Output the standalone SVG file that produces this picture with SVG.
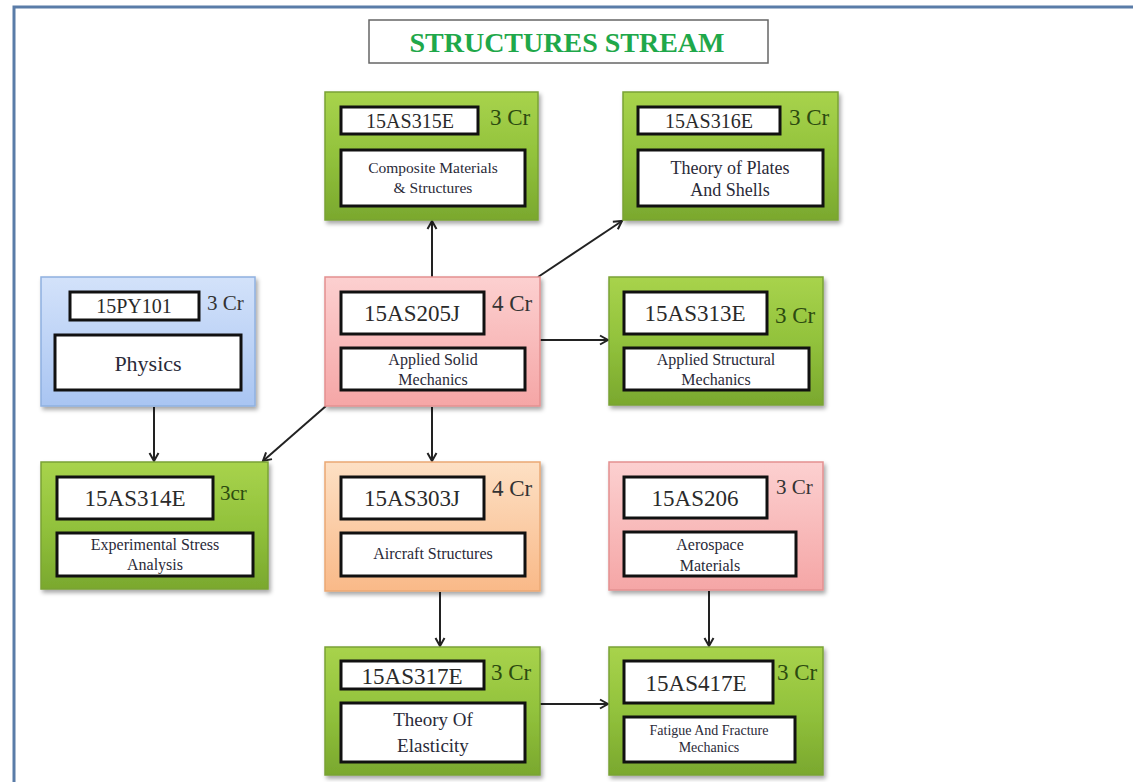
<svg xmlns="http://www.w3.org/2000/svg" width="1133" height="782" viewBox="0 0 1133 782">
<defs>
<linearGradient id="gGreen" x1="0" y1="0" x2="0" y2="1">
<stop offset="0" stop-color="#a8d34c"/><stop offset="0.5" stop-color="#92c23c"/><stop offset="1" stop-color="#7aa82e"/>
</linearGradient>
<linearGradient id="gPink" x1="0" y1="0" x2="0" y2="1">
<stop offset="0" stop-color="#fcd0d0"/><stop offset="1" stop-color="#f5a6a6"/>
</linearGradient>
<linearGradient id="gBlue" x1="0" y1="0" x2="0" y2="1">
<stop offset="0" stop-color="#d3e2fa"/><stop offset="1" stop-color="#a9c5f2"/>
</linearGradient>
<linearGradient id="gOrange" x1="0" y1="0" x2="0" y2="1">
<stop offset="0" stop-color="#fde0c4"/><stop offset="1" stop-color="#f9b988"/>
</linearGradient>
<filter id="sh" x="-10%" y="-10%" width="125%" height="125%">
<feDropShadow dx="2" dy="3" stdDeviation="2" flood-color="#000" flood-opacity="0.35"/>
</filter>
<marker id="arr" markerWidth="12" markerHeight="12" refX="10" refY="6" orient="auto" markerUnits="userSpaceOnUse">
<path d="M2,1.5 L10,6 L2,10.5" fill="none" stroke="#222" stroke-width="2"/>
</marker>
</defs>
<style>
.frame{fill:none;stroke:#5a7ca8;stroke-width:3}
.green{fill:url(#gGreen);stroke:#7aa335;stroke-width:1.5;filter:url(#sh)}
.pink{fill:url(#gPink);stroke:#e39090;stroke-width:1.5;filter:url(#sh)}
.blue{fill:url(#gBlue);stroke:#8fb0e0;stroke-width:1.5;filter:url(#sh)}
.orange{fill:url(#gOrange);stroke:#eaa874;stroke-width:1.5;filter:url(#sh)}
.wb{fill:#fff;stroke:#111;stroke-width:3}
text{font-family:"Liberation Serif",serif}
.code{font-size:23px;fill:#2a2a2a;text-anchor:middle}
.codes{font-size:20px;fill:#2a2a2a;text-anchor:middle}
.name{font-size:16px;fill:#2a2a38;text-anchor:middle}
.crg{font-size:23px;fill:#2c4a10}
.cr{font-size:23px;fill:#333}
.conn line{stroke:#222;stroke-width:2;marker-end:url(#arr)}
</style>
<rect width="1133" height="782" fill="#fff"/>
<path class="frame" d="M14,790 L14,7 L1140,7"/>
<g id="title">
<rect x="369" y="20" width="399" height="43" fill="#fff" stroke="#666" stroke-width="1.5"/>
<text x="567" y="52" style="font-size:28px;font-weight:bold;fill:#1fa84a;text-anchor:middle">STRUCTURES STREAM</text>
</g>
<g class="conn" id="connectors">
<line x1="432" y1="277" x2="432" y2="221"/>
<line x1="538" y1="277" x2="622" y2="221"/>
<line x1="540" y1="340" x2="608" y2="340"/>
<line x1="432" y1="407" x2="432" y2="461"/>
<line x1="326" y1="406" x2="263" y2="461"/>
<line x1="154" y1="407" x2="154" y2="461"/>
<line x1="440" y1="592" x2="440" y2="646"/>
<line x1="709" y1="591" x2="709" y2="646"/>
<line x1="540" y1="704" x2="608" y2="704"/>
</g>
<g id="n15AS315E">
<rect class="green" x="325" y="92" width="213" height="128"/>
<rect class="wb" x="341" y="107" width="137" height="27"/>
<text class="codes" x="410" y="128">15AS315E</text>
<text class="crg" x="490" y="125">3 Cr</text>
<rect class="wb" x="341" y="150" width="184" height="56"/>
<text class="name" x="433" y="173" style="font-size:15.5px">Composite Materials</text>
<text class="name" x="433" y="193" style="font-size:15.5px">&amp; Structures</text>
</g>
<g id="n15AS316E">
<rect class="green" x="623" y="92" width="215" height="128"/>
<rect class="wb" x="638" y="107" width="142" height="27"/>
<text class="codes" x="709" y="128">15AS316E</text>
<text class="crg" x="789" y="125">3 Cr</text>
<rect class="wb" x="638" y="150" width="185" height="56"/>
<text class="name" x="730" y="174" style="font-size:18px">Theory of  Plates</text>
<text class="name" x="730" y="196" style="font-size:18px">And Shells</text>
</g>
<g id="n15PY101">
<rect class="blue" x="41" y="277" width="214" height="129"/>
<rect class="wb" x="70" y="292" width="129" height="28"/>
<text class="codes" x="134" y="313">15PY101</text>
<text class="cr" x="207" y="310" style="font-size:21px">3 Cr</text>
<rect class="wb" x="55" y="335" width="186" height="55"/>
<text class="name" x="148" y="371" style="font-size:22px">Physics</text>
</g>
<g id="n15AS205J">
<rect class="pink" x="325" y="277" width="215" height="129"/>
<rect class="wb" x="341" y="292" width="143" height="42"/>
<text class="code" x="412" y="321">15AS205J</text>
<text class="cr" x="492" y="311">4 Cr</text>
<rect class="wb" x="341" y="348" width="184" height="42"/>
<text class="name" x="433" y="365">Applied Solid</text>
<text class="name" x="433" y="385">Mechanics</text>
</g>
<g id="n15AS313E">
<rect class="green" x="609" y="277" width="214" height="128"/>
<rect class="wb" x="624" y="292" width="143" height="42"/>
<text class="code" x="695" y="321">15AS313E</text>
<text class="crg" x="775" y="323">3 Cr</text>
<rect class="wb" x="624" y="348" width="185" height="42"/>
<text class="name" x="716" y="365">Applied Structural</text>
<text class="name" x="716" y="385">Mechanics</text>
</g>
<g id="n15AS314E">
<rect class="green" x="41" y="462" width="227" height="127"/>
<rect class="wb" x="57" y="477" width="156" height="42"/>
<text class="code" x="135" y="506">15AS314E</text>
<text class="crg" x="220" y="500" style="font-size:21px">3cr</text>
<rect class="wb" x="57" y="533" width="196" height="43"/>
<text class="name" x="155" y="550">Experimental Stress</text>
<text class="name" x="155" y="570">Analysis</text>
</g>
<g id="n15AS303J">
<rect class="orange" x="325" y="462" width="215" height="129"/>
<rect class="wb" x="341" y="477" width="143" height="42"/>
<text class="code" x="412" y="506">15AS303J</text>
<text class="cr" x="492" y="496">4 Cr</text>
<rect class="wb" x="341" y="533" width="184" height="43"/>
<text class="name" x="433" y="559">Aircraft Structures</text>
</g>
<g id="n15AS206">
<rect class="pink" x="609" y="462" width="214" height="128"/>
<rect class="wb" x="624" y="477" width="143" height="41"/>
<text class="code" x="695" y="506">15AS206</text>
<text class="cr" x="776" y="494" style="font-size:21px">3 Cr</text>
<rect class="wb" x="624" y="532" width="172" height="44"/>
<text class="name" x="710" y="550">Aerospace</text>
<text class="name" x="710" y="571">Materials</text>
</g>
<g id="n15AS317E">
<rect class="green" x="325" y="647" width="215" height="128"/>
<rect class="wb" x="341" y="661" width="143" height="28"/>
<text class="code" x="412" y="684">15AS317E</text>
<text class="crg" x="491" y="680">3 Cr</text>
<rect class="wb" x="341" y="703" width="184" height="59"/>
<text class="name" x="433" y="726" style="font-size:19px">Theory Of</text>
<text class="name" x="433" y="752" style="font-size:19px">Elasticity</text>
</g>
<g id="n15AS417E">
<rect class="green" x="609" y="647" width="214" height="128"/>
<rect class="wb" x="624" y="661" width="149" height="42"/>
<text class="code" x="696" y="691">15AS417E</text>
<text class="crg" x="777" y="680">3 Cr</text>
<rect class="wb" x="624" y="717" width="171" height="45"/>
<text class="name" x="709" y="735" style="font-size:14px">Fatigue And Fracture</text>
<text class="name" x="709" y="752" style="font-size:14px">Mechanics</text>
</g>
</svg>
